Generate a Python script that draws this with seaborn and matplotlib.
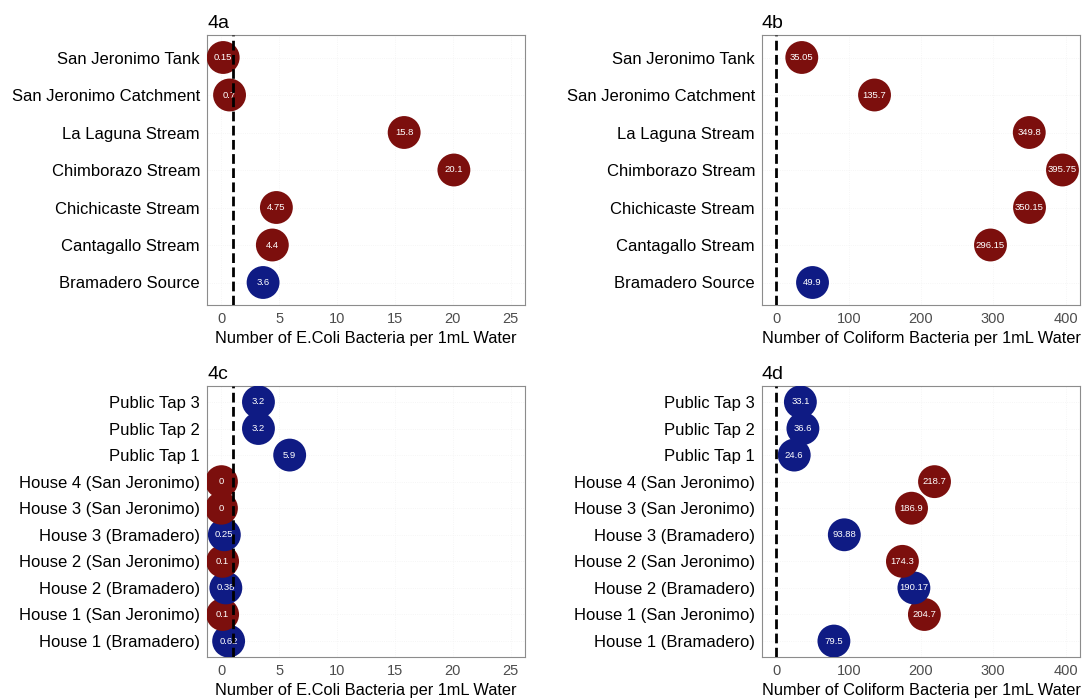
import matplotlib
matplotlib.use('Agg')
import matplotlib.pyplot as plt
import seaborn as sns
import pandas as pd

# Fontes de água (4a / 4b), de baixo para cima
source_sites = ['Bramadero Source', 'Cantagallo Stream', 'Chichicaste Stream',
                'Chimborazo Stream', 'La Laguna Stream', 'San Jeronimo Catchment',
                'San Jeronimo Tank']
source_group = ['Bramadero', 'San Jeronimo', 'San Jeronimo', 'San Jeronimo',
                'San Jeronimo', 'San Jeronimo', 'San Jeronimo']
source_ecoli = [3.6, 4.4, 4.75, 20.1, 15.8, 0.7, 0.15]
source_coliform = [49.9, 296.15, 350.15, 395.75, 349.8, 135.7, 35.05]

# Torneiras e casas (4c / 4d), de baixo para cima
tap_sites = ['House 1 (Bramadero)', 'House 1 (San Jeronimo)', 'House 2 (Bramadero)',
             'House 2 (San Jeronimo)', 'House 3 (Bramadero)', 'House 3 (San Jeronimo)',
             'House 4 (San Jeronimo)', 'Public Tap 1', 'Public Tap 2', 'Public Tap 3']
tap_group = ['Bramadero', 'San Jeronimo', 'Bramadero', 'San Jeronimo', 'Bramadero',
             'San Jeronimo', 'San Jeronimo', 'Bramadero', 'Bramadero', 'Bramadero']
tap_ecoli = [0.62, 0.1, 0.38, 0.1, 0.25, 0, 0, 5.9, 3.2, 3.2]
tap_coliform = [79.5, 204.7, 190.17, 174.3, 93.88, 186.9, 218.7, 24.6, 36.6, 33.1]

# Rótulos dentro dos círculos
source_ecoli_lbl = ['3.6', '4.4', '4.75', '20.1', '15.8', '0.7', '0.15']
source_coliform_lbl = ['49.9', '296.15', '350.15', '395.75', '349.8', '135.7', '35.05']
tap_ecoli_lbl = ['0.62', '0.1', '0.38', '0.1', '0.25', '0', '0', '5.9', '3.2', '3.2']
tap_coliform_lbl = ['79.5', '204.7', '190.17', '174.3', '93.88', '186.9', '218.7',
                    '24.6', '36.6', '33.1']

palette = {'Bramadero': '#0f1b84', 'San Jeronimo': '#7c0f0d'}

sns.set_style('white')
plt.rcParams['font.family'] = ['Liberation Sans', 'DejaVu Sans']

fig = plt.figure(figsize=(10.85, 6.99), dpi=100)
W, H = 1085, 699


def make_ax(left, top, right, bottom):
    return fig.add_axes([left / W, 1 - bottom / H, (right - left) / W, (bottom - top) / H])


def draw_panel(ax, sites, groups, values, labels, xmax, ticks, vline, title, xlabel):
    df = pd.DataFrame({'site': sites, 'group': groups, 'value': values, 'label': labels})
    df['y'] = range(len(df))
    sns.scatterplot(data=df, x='value', y='y', hue='group', palette=palette,
                    s=560, edgecolor='none', legend=False, ax=ax, zorder=3)
    for _, r in df.iterrows():
        ax.text(r['value'], r['y'], r['label'], color='white', fontsize=6.8,
                ha='center', va='center', zorder=4)
    ax.axvline(vline, color='black', linestyle=(0, (3.5, 1.6)), linewidth=2, zorder=5)
    n = len(df)
    ax.set_ylim(-0.6, n - 0.4)
    ax.set_xlim(-0.05 * xmax, 1.05 * xmax)
    ax.set_yticks(range(n))
    ax.set_yticklabels(sites, fontsize=12)
    ax.set_xticks(ticks)
    ax.set_xticklabels([str(t) for t in ticks], fontsize=10.5, color='#4d4d4d')
    ax.set_xlabel(xlabel, fontsize=11.8, labelpad=4, color='black')
    ax.set_ylabel('')
    ax.grid(True, color='#f3f3f3', linestyle=':', linewidth=0.6)
    for sp in ax.spines.values():
        sp.set_color('#8c8c8c')
        sp.set_linewidth(0.8)
    ax.tick_params(axis='both', length=3, width=0.8, color='#4d4d4d', pad=2)
    ax.tick_params(axis='y', labelcolor='black')
    ax.set_title(title, loc='left', fontsize=14, pad=5, color='black')


ax_a = make_ax(207, 35, 525, 305)
ax_b = make_ax(762, 35, 1080, 305)
ax_c = make_ax(207, 386, 525, 657)
ax_d = make_ax(762, 386, 1080, 657)

ecoli_x = 'Number of E.Coli Bacteria per 1mL Water'
coli_x = 'Number of Coliform Bacteria per 1mL Water'

draw_panel(ax_a, source_sites, source_group, source_ecoli, source_ecoli_lbl,
           25, [0, 5, 10, 15, 20, 25], 1, '4a', ecoli_x)
draw_panel(ax_b, source_sites, source_group, source_coliform, source_coliform_lbl,
           400, [0, 100, 200, 300, 400], 0, '4b', coli_x)
draw_panel(ax_c, tap_sites, tap_group, tap_ecoli, tap_ecoli_lbl,
           25, [0, 5, 10, 15, 20, 25], 1, '4c', ecoli_x)
draw_panel(ax_d, tap_sites, tap_group, tap_coliform, tap_coliform_lbl,
           400, [0, 100, 200, 300, 400], 0, '4d', coli_x)

fig.savefig('out.png', dpi=100)
